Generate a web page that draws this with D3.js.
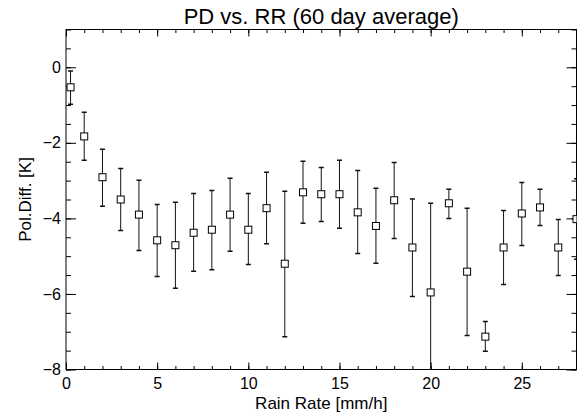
<!DOCTYPE html>
<html>
<head>
<meta charset="utf-8">
<script src="https://cdn.jsdelivr.net/npm/d3@7"></script>
<style>
  body { margin: 0; background: #fff; }
  text { font-family: "Liberation Sans", Arial, sans-serif; }
</style>
</head>
<body>
<svg width="577" height="417"></svg>
<script>
// rain rate bins [mm/h]
const rainRate = [0.25, 1, 2, 3, 4, 5, 6, 7, 8, 9, 10, 11, 12, 13, 14, 15, 16, 17, 18, 19, 20, 21, 22, 23, 24, 25, 26, 27, 28];
// polarization difference [K]
const polDiff = [-0.53, -1.83, -2.91, -3.5, -3.9, -4.58, -4.71, -4.38, -4.3, -3.9, -4.3, -3.73, -5.2, -3.31, -3.36, -3.36, -3.84, -4.2, -3.52, -4.77, -5.96, -3.6, -5.41, -7.13, -4.77, -3.87, -3.71, -4.77, -4.02];
const errUpper = [-0.1, -1.19, -2.17, -2.68, -2.99, -3.63, -3.57, -3.34, -3.26, -2.94, -3.34, -2.78, -3.28, -2.49, -2.65, -2.46, -2.73, -3.2, -2.52, -3.49, -3.6, -3.23, -3.73, -6.73, -3.79, -3.05, -3.23, -4.03, -2.95];
const errLower = [-0.98, -2.46, -3.68, -4.32, -4.85, -5.54, -5.85, -5.4, -5.36, -4.87, -5.22, -4.67, -7.13, -4.13, -4.08, -4.26, -4.93, -5.19, -4.53, -6.07, -8.5, -4.0, -7.1, -7.52, -5.75, -4.72, -4.19, -5.51, -5.08];

const xMajor = [0, 5, 10, 15, 20, 25];
const yMajor = [-8, -6, -4, -2, 0];

const data = rainRate.map((r, i) => ({ r: r, pd: polDiff[i], hi: errUpper[i], lo: errLower[i] }));

const svg = d3.select("svg");
const pLeft = 66, pRight = 576.5, pTop = 29.5, pBottom = 369.5;

const x = d3.scaleLinear().domain([0, 28]).range([pLeft, pRight]);
const y = d3.scaleLinear().domain([-8, 1]).range([pBottom, pTop]);

svg.append("defs").append("clipPath").attr("id", "plotclip")
    .append("rect")
    .attr("x", pLeft).attr("y", pTop)
    .attr("width", pRight - pLeft).attr("height", pBottom - pTop);

// axes, ticks pointing inward
const xLen = 7, yLen = 10;

function styleAxis(g) {
    g.select(".domain").remove();
    g.selectAll("line").attr("stroke", "#000");
    g.selectAll("text").attr("font-size", "16px").attr("fill", "#000")
        .attr("font-family", "'Liberation Sans', Arial, sans-serif");
}

svg.append("g").attr("transform", "translate(0," + pBottom + ")")
    .call(d3.axisBottom(x).tickValues(xMajor).tickSizeInner(-xLen).tickSizeOuter(0).tickPadding(8.5).tickFormat(d3.format("d")))
    .call(styleAxis);
svg.append("g").attr("transform", "translate(0," + pBottom + ")")
    .call(d3.axisBottom(x).tickValues(d3.range(0, 29)).tickSizeInner(-xLen / 2).tickSizeOuter(0).tickFormat(""))
    .call(styleAxis);
svg.append("g").attr("transform", "translate(0," + pTop + ")")
    .call(d3.axisTop(x).tickValues(xMajor).tickSizeInner(-xLen).tickSizeOuter(0).tickFormat(""))
    .call(styleAxis);
svg.append("g").attr("transform", "translate(0," + pTop + ")")
    .call(d3.axisTop(x).tickValues(d3.range(0, 29)).tickSizeInner(-xLen / 2).tickSizeOuter(0).tickFormat(""))
    .call(styleAxis);

svg.append("g").attr("transform", "translate(" + pLeft + ",0)")
    .call(d3.axisLeft(y).tickValues(yMajor).tickSizeInner(-yLen).tickSizeOuter(0).tickPadding(5).tickFormat(d3.format("d")))
    .call(styleAxis);
svg.append("g").attr("transform", "translate(" + pLeft + ",0)")
    .call(d3.axisLeft(y).tickValues(d3.range(-8, 1.01, 0.5)).tickSizeInner(-yLen / 2).tickSizeOuter(0).tickFormat(""))
    .call(styleAxis);
svg.append("g").attr("transform", "translate(" + pRight + ",0)")
    .call(d3.axisRight(y).tickValues(yMajor).tickSizeInner(-yLen).tickSizeOuter(0).tickFormat(""))
    .call(styleAxis);
svg.append("g").attr("transform", "translate(" + pRight + ",0)")
    .call(d3.axisRight(y).tickValues(d3.range(-8, 1.01, 0.5)).tickSizeInner(-yLen / 2).tickSizeOuter(0).tickFormat(""))
    .call(styleAxis);

// frame
svg.append("rect")
    .attr("x", pLeft).attr("y", pTop)
    .attr("width", pRight - pLeft).attr("height", pBottom - pTop)
    .attr("fill", "none").attr("stroke", "#000");

// error bars and markers
const plot = svg.append("g").attr("clip-path", "url(#plotclip)");
const cap = 2.5, half = 3.5;

const bars = plot.selectAll(".errbar")
    .data(data)
    .enter()
    .append("g")
    .attr("class", "errbar");

bars.append("line")
    .attr("x1", d => x(d.r)).attr("x2", d => x(d.r))
    .attr("y1", d => y(d.hi)).attr("y2", d => y(d.lo))
    .attr("stroke", "#111");
bars.append("line")
    .attr("x1", d => x(d.r) - cap).attr("x2", d => x(d.r) + cap)
    .attr("y1", d => y(d.hi)).attr("y2", d => y(d.hi))
    .attr("stroke", "#111").attr("stroke-width", 1.5);
bars.append("line")
    .attr("x1", d => x(d.r) - cap).attr("x2", d => x(d.r) + cap)
    .attr("y1", d => y(d.lo)).attr("y2", d => y(d.lo))
    .attr("stroke", "#111").attr("stroke-width", 1.5);

plot.selectAll(".marker")
    .data(data)
    .enter()
    .append("rect")
    .attr("class", "marker")
    .attr("x", d => x(d.r) - half)
    .attr("y", d => y(d.pd) - half)
    .attr("width", half * 2)
    .attr("height", half * 2)
    .attr("fill", "#fff")
    .attr("stroke", "#000");

// labels
svg.append("text")
    .attr("x", (pLeft + pRight) / 2)
    .attr("y", 24)
    .attr("text-anchor", "middle")
    .attr("font-size", "22px")
    .text("PD vs. RR (60 day average)");

svg.append("text")
    .attr("x", (pLeft + pRight) / 2)
    .attr("y", 409)
    .attr("text-anchor", "middle")
    .attr("font-size", "17px")
    .text("Rain Rate [mm/h]");

svg.append("text")
    .attr("transform", "translate(31," + (pTop + pBottom) / 2 + ") rotate(-90)")
    .attr("text-anchor", "middle")
    .attr("font-size", "17px")
    .text("Pol.Diff. [K]");
</script>
</body>
</html>
